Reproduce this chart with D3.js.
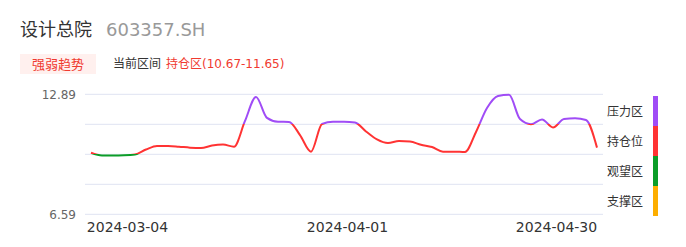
<!DOCTYPE html>
<html>
<head>
<meta charset="utf-8">
<script src="https://cdn.jsdelivr.net/npm/d3@7"></script>
<style>
  body { margin: 0; background: #fff; }
  svg text { font-family: "DejaVu Sans", "Noto Sans CJK SC", sans-serif; }
</style>
</head>
<body>
<div id="chart"></div>
<script>
// Strength trend line for 设计总院, coloured by zone band

var dates = [
  "2024-02-28", "2024-02-29", "2024-03-01",
  "2024-03-04", "2024-03-05", "2024-03-06", "2024-03-07", "2024-03-08",
  "2024-03-11", "2024-03-12", "2024-03-13", "2024-03-14", "2024-03-15",
  "2024-03-18", "2024-03-19", "2024-03-20", "2024-03-21", "2024-03-22",
  "2024-03-25", "2024-03-26", "2024-03-27", "2024-03-28", "2024-03-29",
  "2024-04-01", "2024-04-02", "2024-04-03",
  "2024-04-08", "2024-04-09", "2024-04-10", "2024-04-11", "2024-04-12",
  "2024-04-15", "2024-04-16", "2024-04-17", "2024-04-18", "2024-04-19",
  "2024-04-22", "2024-04-23", "2024-04-24", "2024-04-25", "2024-04-26",
  "2024-04-29", "2024-04-30",
  "2024-05-06", "2024-05-07", "2024-05-08", "2024-05-09"
]
var values = [
  9.82, 9.68, 9.68, 9.69, 9.73, 9.99, 10.18, 10.18, 10.14, 10.09,
  10.07, 10.20, 10.25, 10.14, 11.49, 12.75, 11.65, 11.45, 11.44, 10.75,
  9.88, 11.33, 11.45, 11.45, 11.41, 10.94, 10.52, 10.33, 10.44, 10.41,
  10.24, 10.12, 9.88, 9.88, 9.86, 10.91, 12.17, 12.80, 12.87, 11.59,
  11.32, 11.57, 11.15, 11.59, 11.63, 11.54, 10.09
]
var xTicks = ["2024-03-04", "2024-04-01", "2024-04-30"]
var yMin = 6.59, yMax = 12.89
var gridValues = [6.59, 8.165, 9.74, 11.315, 12.89]

// zones, top to bottom
var zoneNames = ["压力区", "持仓位", "观望区", "支撑区"]
var zoneColors = ["#a04cf6", "#ff3333", "#0b9d28", "#fdae00"]

var width = 686, height = 247

var svg = d3.select("#chart").append("svg")
  .attr("width", width)
  .attr("height", height)

// header
svg.append("text").attr("x", 20).attr("y", 36)
  .attr("font-size", 18).attr("fill", "#333").text("设计总院")
svg.append("text").attr("x", 106).attr("y", 36)
  .attr("font-size", 18).attr("fill", "#999").text("603357.SH")

svg.append("rect").attr("x", 20).attr("y", 54).attr("width", 76).attr("height", 20)
  .attr("fill", "#fff0ee")
svg.append("text").attr("x", 58).attr("y", 68.5).attr("text-anchor", "middle")
  .attr("font-size", 13).attr("fill", "#f03a30").text("强弱趋势")
svg.append("text").attr("x", 113).attr("y", 68)
  .attr("font-size", 12).attr("fill", "#333").text("当前区间")
svg.append("text").attr("x", 166).attr("y", 68)
  .attr("font-size", 12).attr("fill", "#f03a30").text("持仓区(10.67-11.65)")

// scales
var x = d3.scalePoint().domain(dates).range([91, 597])
var y = d3.scaleLinear().domain([yMin, yMax]).range([214.3, 94.3])

// grid
svg.append("g").selectAll("line")
  .data(gridValues)
  .join("line")
  .attr("x1", 85).attr("x2", 603)
  .attr("y1", function(d) { return y(d) }).attr("y2", function(d) { return y(d) })
  .attr("stroke", "#dfe3f2").attr("stroke-width", 1)

// y axis labels
var yAxis = svg.append("g")
  .attr("transform", "translate(85,0)")
  .call(d3.axisLeft(y).tickValues([yMin, yMax]).tickSize(0).tickPadding(9)
    .tickFormat(d3.format(".2f")))
yAxis.select(".domain").remove()
yAxis.selectAll("text").attr("font-size", 12).attr("fill", "#666")
  .style("font-family", "DejaVu Sans")

// x axis labels
var xAxis = svg.append("g")
  .attr("transform", "translate(3,214)")
  .call(d3.axisBottom(x).tickValues(xTicks).tickSize(0).tickPadding(8))
xAxis.select(".domain").remove()
xAxis.selectAll("text").attr("font-size", 14).attr("fill", "#333")
  .style("font-family", "DejaVu Sans")

// band gradient for the line colour
var bounds = gridValues.slice(1, 4).reverse() // 11.315, 9.74, 8.165
var grad = svg.append("defs").append("linearGradient")
  .attr("id", "zoneGrad")
  .attr("gradientUnits", "userSpaceOnUse")
  .attr("x1", 0).attr("x2", 0)
  .attr("y1", y(yMax)).attr("y2", y(yMin))
var span = y(yMin) - y(yMax)
var stops = []
zoneColors.forEach(function(c, i) {
  var top = i === 0 ? 0 : (y(bounds[i - 1]) - y(yMax)) / span
  var bot = i === 3 ? 1 : (y(bounds[i]) - y(yMax)) / span
  stops.push({ o: top, c: c }, { o: bot, c: c })
})
grad.selectAll("stop").data(stops).join("stop")
  .attr("offset", function(d) { return d.o })
  .attr("stop-color", function(d) { return d.c })

var line = d3.line()
  .x(function(d, i) { return x(dates[i]) })
  .y(function(d) { return y(d) })
  .curve(d3.curveMonotoneX)

svg.append("path")
  .datum(values)
  .attr("d", line)
  .attr("fill", "none")
  .attr("stroke", "url(#zoneGrad)")
  .attr("stroke-width", 2)
  .attr("stroke-linejoin", "round")

// legend on the right
var bandH = 30
var legend = svg.append("g").attr("transform", "translate(0,96)")
legend.selectAll("rect")
  .data(zoneColors)
  .join("rect")
  .attr("x", 653).attr("width", 5)
  .attr("y", function(d, i) { return i * bandH })
  .attr("height", bandH)
  .attr("fill", function(d) { return d })
legend.selectAll("text")
  .data(zoneNames)
  .join("text")
  .attr("x", 607)
  .attr("y", function(d, i) { return i * bandH + bandH / 2 + 4.5 })
  .attr("font-size", 12).attr("fill", "#333")
  .text(function(d) { return d })
</script>
</body>
</html>
